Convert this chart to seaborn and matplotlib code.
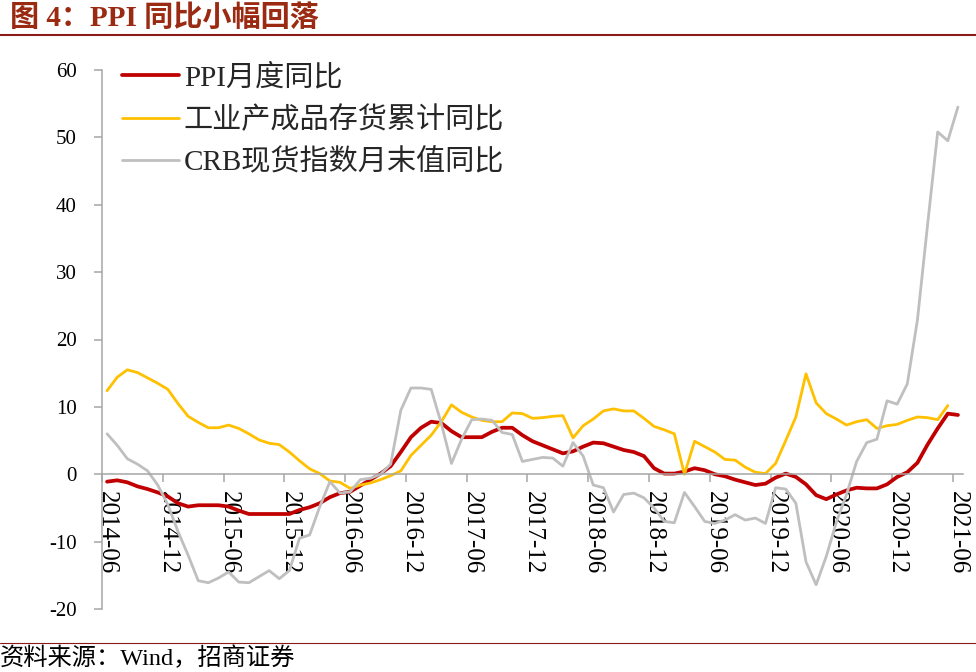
import numpy as np
import pandas as pd
import matplotlib
matplotlib.use('Agg')
import matplotlib.pyplot as plt
import seaborn as sns
from matplotlib.lines import Line2D

# ---------------- data ----------------
months = pd.period_range('2014-06', '2021-06', freq='M').strftime('%Y-%m').tolist()

ppi = [-1.1, -0.9, -1.2, -1.8, -2.2, -2.7, -3.3,
       -4.3, -4.8, -4.6, -4.6, -4.6, -4.8, -5.4, -5.9, -5.9, -5.9, -5.9, -5.9,
       -5.3, -4.9, -4.3, -3.4, -2.8, -2.6, -1.7, -0.8, 0.1, 1.2, 3.3, 5.5,
       6.9, 7.8, 7.6, 6.4, 5.5, 5.5, 5.5, 6.3, 6.9, 6.9, 5.8, 4.9,
       4.3, 3.7, 3.1, 3.4, 4.1, 4.7, 4.6, 4.1, 3.6, 3.3, 2.7, 0.9,
       0.1, 0.1, 0.4, 0.9, 0.6, 0.0, -0.3, -0.8, -1.2, -1.6, -1.4, -0.5,
       0.1, -0.4, -1.5, -3.1, -3.7, -3.0, -2.4, -2.0, -2.1, -2.1, -1.5, -0.4,
       0.3, 1.7, 4.4, 6.8, 9.0, 8.8]

inventory = [12.4, 14.4, 15.5, 15.1, 14.3, 13.5, 12.6,
             10.5, 8.6, 7.7, 6.9, 6.9, 7.3, 6.8, 6.0, 5.1, 4.6, 4.4, 3.3,
             2.0, 0.8, 0.1, -1.0, -1.2, -2.1, -1.6, -1.3, -0.8, -0.2, 0.5, 2.8,
             4.3, 5.8, 7.8, 10.3, 9.2, 8.5, 8.0, 7.8, 7.8, 9.1, 9.0, 8.3,
             8.4, 8.6, 8.7, 5.4, 7.2, 8.2, 9.4, 9.7, 9.4, 9.4, 8.3, 7.1,
             6.6, 6.0, 0.0, 4.9, 4.1, 3.3, 2.2, 2.1, 1.05, 0.3, 0.1, 1.6,
             5.0, 8.5, 14.9, 10.6, 9.0, 8.2, 7.3, 7.8, 8.1, 6.8, 7.2, 7.4,
             8.0, 8.5, 8.4, 8.1, 10.2, np.nan]

crb = [6.0, 4.3, 2.3, 1.5, 0.5, -1.6, -4.5,
       -8.5, -12.0, -15.8, -16.1, -15.4, -14.5, -16.0, -16.1, -15.2, -14.3, -15.5, -14.3,
       -9.5, -9.0, -4.8, -1.1, -2.8, -2.6, -0.8, -0.6, 0.0, 1.5, 9.5, 12.8,
       12.8, 12.6, 7.5, 1.6, 5.2, 8.1, 8.2, 8.0, 6.2, 5.9, 1.9, 2.2,
       2.5, 2.4, 1.2, 4.7, 2.7, -1.6, -2.0, -5.6, -3.0, -2.8, -3.5, -5.0,
       -7.0, -7.2, -2.7, -4.8, -7.0, -7.3, -6.8, -6.0, -6.8, -6.5, -7.3, -2.0,
       -2.2, -4.3, -13.0, -16.4, -12.2, -7.1, -3.0, 1.9, 4.7, 5.2, 10.9, 10.4,
       13.4, 22.9, 37.0, 50.8, 49.5, 54.5]

series_names = ['PPI月度同比', '工业产成品存货累计同比', 'CRB现货指数月末值同比']
series_colors = ['#C00000', '#FFC000', '#BFBFBF']
tick_labels = months[::6]
y_ticks = list(range(-20, 61, 10))

df = pd.DataFrame({'idx': np.arange(len(months)), 'month': months,
                   series_names[0]: ppi, series_names[1]: inventory,
                   series_names[2]: crb})

# ---------------- style ----------------
sns.set_theme(style='white')
plt.rcParams['font.family'] = ['Liberation Serif', 'Noto Sans CJK SC']
plt.rcParams['axes.unicode_minus'] = False

W, H = 976, 672
fig = plt.figure(figsize=(W / 100, H / 100), dpi=100)
ax = fig.add_axes([102 / W, 1 - 609 / H, (963 - 102) / W, (609 - 70) / H])

widths = [2.7, 2.0, 2.0]
for name, col, lw in zip(series_names, series_colors, widths):
    sns.lineplot(data=df, x='idx', y=name, color=col, linewidth=lw, ax=ax,
                 label=name, legend=False)

ax.set_xlim(-0.5, len(months) - 0.5)
ax.set_ylim(-20, 60)
ax.set_xlabel('')
ax.set_ylabel('')

axis_col = '#A6A6A6'
for s in ['top', 'right']:
    ax.spines[s].set_visible(False)
ax.spines['left'].set_color(axis_col)
ax.spines['left'].set_linewidth(1.1)
ax.spines['bottom'].set_color(axis_col)
ax.spines['bottom'].set_linewidth(1.1)
ax.spines['bottom'].set_position(('data', 0))

# x axis: labels at category centres, tick marks between categories
ax.set_xticks(np.arange(0, len(months), 6))
ax.set_xticklabels(tick_labels, rotation=-90, fontsize=18, color='black')
ax.set_xticks(np.arange(-0.5, len(months) - 1, 6), minor=True)
ax.tick_params(axis='x', which='major', length=0, pad=12, bottom=True)
ax.tick_params(axis='x', which='minor', length=6, width=1.1, color=axis_col,
               direction='out', bottom=True)

ax.set_yticks(y_ticks)
ax.set_yticklabels([str(v) for v in y_ticks], fontsize=15, color='black')
ax.tick_params(axis='y', which='major', length=6, width=1.1, color=axis_col,
               direction='out', left=True, pad=12)

ax.legend(loc='upper left', bbox_to_anchor=(122 / W, 1 - 64 / H),
          bbox_transform=fig.transFigure, frameon=False, fontsize=21,
          handlelength=1.95, handletextpad=0.17, labelspacing=0.5,
          borderpad=0, borderaxespad=0)

# title, rules and source
fig.text(10 / W, 1 - 18 / H, '图 4：PPI 同比小幅回落', fontsize=21, fontweight='bold',
         color='#9A2A12', va='center', ha='left')
fig.add_artist(Line2D([0, 1], [1 - 35 / H] * 2, transform=fig.transFigure,
                      color='#8B1A1A', linewidth=1.5))
fig.add_artist(Line2D([0, 1], [1 - 643 / H] * 2, transform=fig.transFigure,
                      color='#8B1A1A', linewidth=0.8))
fig.text(0 / W, 1 - 658 / H, '资料来源：Wind，招商证券', fontsize=17.5,
         color='black', va='center', ha='left')

fig.savefig('out.png', dpi=100)
